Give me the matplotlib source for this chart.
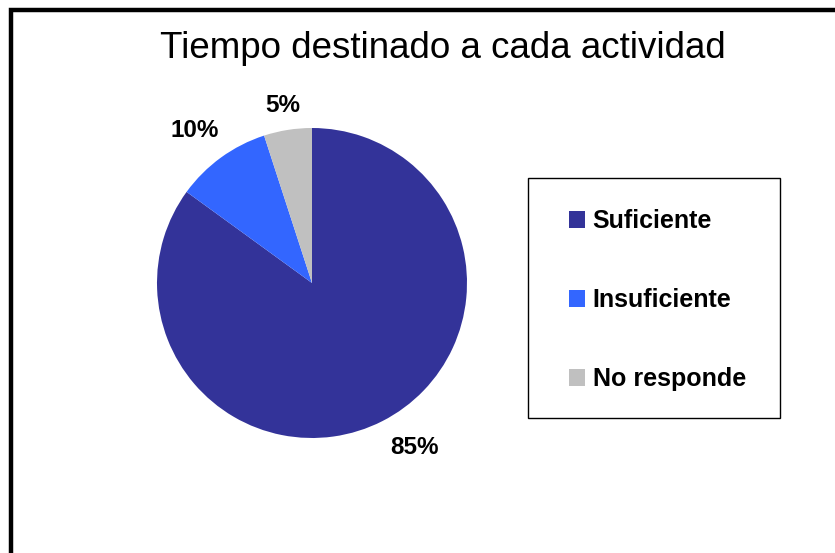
import numpy as np
import matplotlib
matplotlib.use("Agg")
import matplotlib.pyplot as plt
from matplotlib.patches import Rectangle

# Datos del gráfico
categorias = ["Suficiente", "Insuficiente", "No responde"]
porcentajes = [85, 10, 5]
colores = ["#333399", "#3366FF", "#C0C0C0"]
titulo = "Tiempo destinado a cada actividad"

plt.rcParams["font.family"] = ["Liberation Sans", "DejaVu Sans"]

W, H = 835, 553
fig = plt.figure(figsize=(W / 100, H / 100), dpi=100)

# Marco negro del gráfico (se sale por la derecha y por abajo)
fig.patches.append(Rectangle((11 / W, -0.1), 1.2, (H - 10) / H + 0.1,
                             transform=fig.transFigure, fill=False,
                             edgecolor="black", linewidth=3.2))

# Título
fig.text(443 / W, 1 - 48 / H, titulo, ha="center", va="center", fontsize=26.5)

# Eje de la torta: centro (312, 283) px, radio 155 px
cx, cy, r = 312, 283, 155
ax = fig.add_axes([(cx - r) / W, (H - cy - r) / H, 2 * r / W, 2 * r / H])
cunas, _ = ax.pie(porcentajes, colors=colores, startangle=90, counterclock=False,
                  radius=1.0, wedgeprops=dict(linewidth=0))
ax.set_xlim(-1, 1)
ax.set_ylim(-1, 1)
ax.set_aspect("equal")
ax.axis("off")

# Etiquetas de porcentaje fuera de la torta
distancias = [1.25, 1.24, 1.16]
desfase_ang = [5, 1.5, 0.5]
for cuna, p, d, da in zip(cunas, porcentajes, distancias, desfase_ang):
    ang = np.deg2rad((cuna.theta1 + cuna.theta2) / 2 + da)
    ax.text(d * np.cos(ang), d * np.sin(ang), f"{p}%", ha="center", va="center",
            fontsize=17.5, fontweight="bold", clip_on=False)

# Recuadro de la leyenda
fig.patches.append(Rectangle((528 / W, 1 - 418 / H), 252 / W, 240 / H,
                             transform=fig.transFigure, fill=False,
                             edgecolor="black", linewidth=1.0))

# Leyenda (sin marco propio)
ley = fig.legend(cunas, categorias, loc="upper left",
                 bbox_to_anchor=(569 / W, 1 - 209 / H),
                 prop=dict(size=18, weight="bold"), frameon=False,
                 handlelength=0.65, handleheight=0.65,
                 handletextpad=0.3, labelspacing=2.2, borderpad=0, borderaxespad=0)

fig.savefig("out.png", dpi=100)
